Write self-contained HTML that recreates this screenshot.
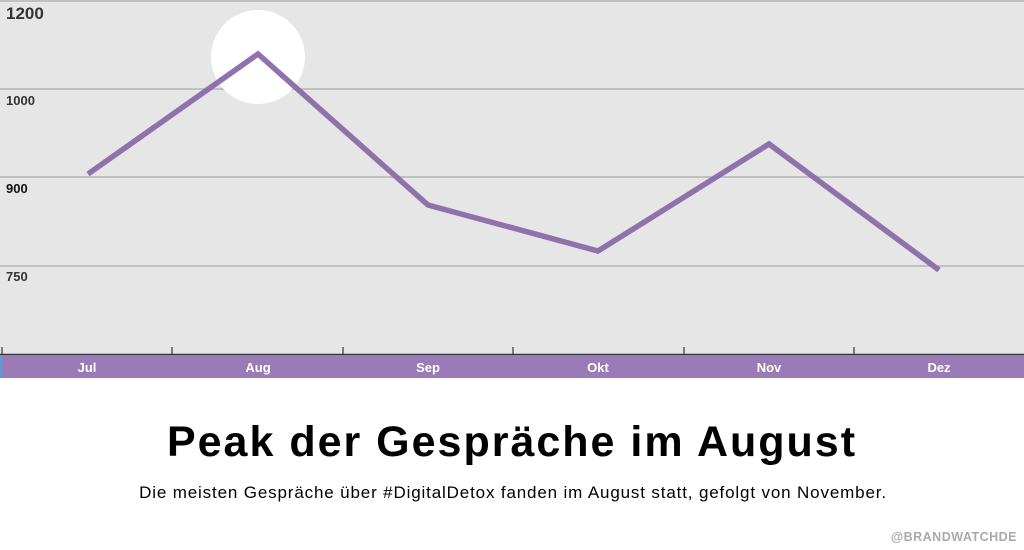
<!DOCTYPE html>
<html><head><meta charset="utf-8"><style>
body{margin:0;width:1024px;height:550px;background:#fff;overflow:hidden;font-family:"Liberation Sans",sans-serif}
</style></head><body>
<svg width="1024" height="550" style="position:absolute;left:0;top:0">
<rect x="0" y="0" width="1024" height="354" fill="#e6e6e6"/>
<g stroke="#b4b4b4" stroke-width="1.5">
<line x1="0" y1="1" x2="1024" y2="1"/>
<line x1="0" y1="89" x2="1024" y2="89"/>
<line x1="0" y1="177" x2="1024" y2="177"/>
<line x1="0" y1="266" x2="1024" y2="266"/>
</g>
<g font-weight="bold" fill="#333">
<text x="6" y="19" font-size="17">1200</text>
<text x="6" y="105" font-size="13">1000</text>
<text x="6" y="193" font-size="13" fill="#111">900</text>
<text x="6" y="281" font-size="13">750</text>
</g>
<circle cx="258" cy="57" r="47" fill="#fff"/>
<polyline points="88,174 258,54 428,205 598,251 769,144 939,270" fill="none" stroke="#8a6aa8" stroke-width="5.5" stroke-linejoin="miter" opacity="0.95"/>
<line x1="0" y1="354.5" x2="1024" y2="354.5" stroke="#334" stroke-width="1.5"/>
<g stroke="#333" stroke-width="1.2">
<line x1="2" y1="347" x2="2" y2="355"/><line x1="172" y1="347" x2="172" y2="355"/>
<line x1="343" y1="347" x2="343" y2="355"/><line x1="513" y1="347" x2="513" y2="355"/>
<line x1="684" y1="347" x2="684" y2="355"/><line x1="854" y1="347" x2="854" y2="355"/>
</g>
<rect x="0" y="355" width="1024" height="23" fill="#9b7bb5"/>
<rect x="0" y="355" width="2" height="23" fill="#4aa3df"/>
<g fill="#fff" font-weight="bold" font-size="13" text-anchor="middle">
<text x="87" y="372">Jul</text><text x="258" y="372">Aug</text><text x="428" y="372">Sep</text>
<text x="598" y="372">Okt</text><text x="769" y="372">Nov</text><text x="939" y="372">Dez</text>
</g>
<text x="512" y="456" text-anchor="middle" font-size="43" font-weight="bold" fill="#000" letter-spacing="2">Peak der Gespräche im August</text>
<text x="513" y="498" text-anchor="middle" font-size="17" fill="#000" letter-spacing="0.85">Die meisten Gespräche über #DigitalDetox fanden im August statt, gefolgt von November.</text>
<text x="1017" y="541" text-anchor="end" font-size="12.5" font-weight="bold" fill="#aaa" letter-spacing="0.5">@BRANDWATCHDE</text>
</svg>
</body></html>
